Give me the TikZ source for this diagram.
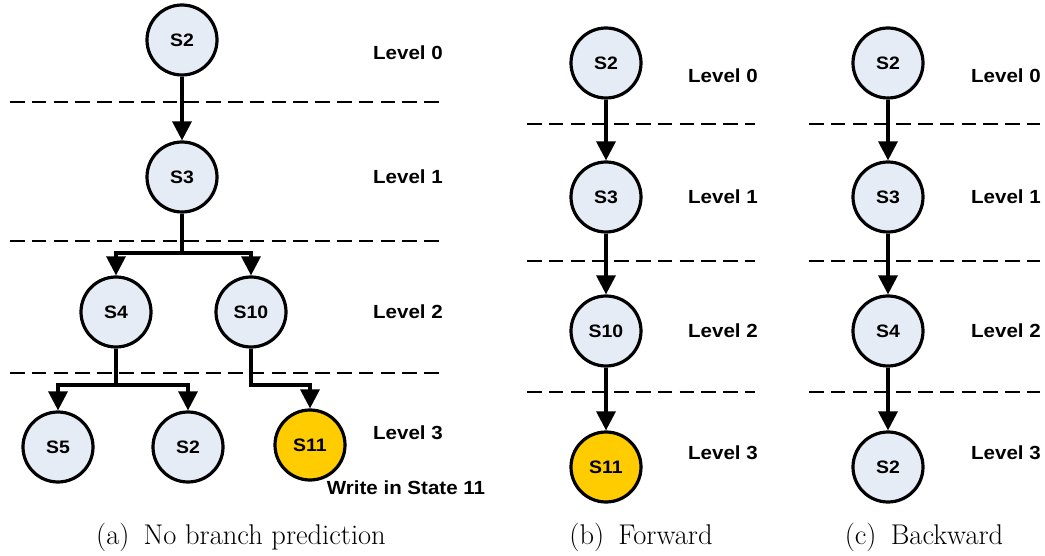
\documentclass[tikz,border=0pt]{standalone}
\usepackage{fontspec}
\newfontfamily\lab{Liberation Sans}[FakeStretch=1.08]
\usetikzlibrary{arrows.meta}
\definecolor{statefill}{HTML}{E6ECF6}
\definecolor{hotfill}{HTML}{FFCC00}
\tikzset{
  state/.style={circle, draw=black, line width=3.2pt, fill=statefill,
    minimum size=70pt, inner sep=0pt,
    font=\lab\bfseries\fontsize{18}{20}\selectfont},
  hot/.style={state, fill=hotfill},
  lvl/.style={anchor=west, inner sep=0pt, font=\lab\bfseries\fontsize{19}{21}\selectfont},
  note/.style={inner sep=0pt, font=\lab\bfseries\fontsize{19}{21}\selectfont},
  subcap/.style={inner sep=0pt, font=\fontsize{28.5}{32}\selectfont},
  sep/.style={line width=2.2pt, dash pattern=on 14.5pt off 7.3pt},
  arr/.style={line width=3.2pt, -{Triangle[length=19pt,width=19pt]}},
}
\begin{document}
\begin{tikzpicture}[x=1pt,y=-1pt]
\useasboundingbox (0,0) rectangle (1045,556);

% ---- (a) no branch prediction ----
\foreach \yy in {102,241,373} \draw[sep] (10,\yy) -- (443,\yy);
\node[state] (a0) at (182,40) {S2};
\node[state] (a1) at (182,177) {S3};
\node[state] (a2l) at (116,312) {S4};
\node[state] (a2r) at (251,312) {S10};
\node[state] (a3a) at (58,447) {S5};
\node[state] (a3b) at (188,447) {S2};
\node[hot] (a3c) at (310,445) {S11};
\coordinate (ja) at (182,253);
\coordinate (jb) at (116,385);
\coordinate (jc) at (251,385);
\draw[arr] (a0) -- (a1);
\draw[arr] (a1.south) -- (ja) -| (a2l.north);
\draw[arr] (a1.south) -- (ja) -| (a2r.north);
\draw[arr] (a2l.south) -- (jb) -| (a3a.north);
\draw[arr] (a2l.south) -- (jb) -| (a3b.north);
\draw[arr] (a2r.south) -- (jc) -| (a3c.north);
\node[lvl] (la0) at (373,53) {Level 0};
\node[lvl] (la1) at (373,177) {Level 1};
\node[lvl] (la2) at (373,312) {Level 2};
\node[lvl] (la3) at (373,433) {Level 3};
\node[note] (wr) at (406,488) {Write in State 11};
\node[subcap] (capa) at (241,537) {(a)\enspace No branch prediction};

% ---- (b) forward ----
\foreach \yy in {124,261,392} \draw[sep] (527,\yy) -- (755,\yy);
\node[state] (b0) at (606,63) {S2};
\node[state] (b1) at (606,197) {S3};
\node[state] (b2) at (606,331) {S10};
\node[hot] (b3) at (606,467) {S11};
\draw[arr] (b0) -- (b1);
\draw[arr] (b1) -- (b2);
\draw[arr] (b2) -- (b3);
\node[lvl] (lb0) at (688,76) {Level 0};
\node[lvl] (lb1) at (688,197) {Level 1};
\node[lvl] (lb2) at (688,331) {Level 2};
\node[lvl] (lb3) at (688,453) {Level 3};
\node[subcap] (capb) at (641,537) {(b)\enspace Forward};

% ---- (c) backward ----
\foreach \yy in {124,261,392} \draw[sep] (809,\yy) -- (1040,\yy);
\node[state] (c0) at (888,63) {S2};
\node[state] (c1) at (888,197) {S3};
\node[state] (c2) at (888,331) {S4};
\node[state] (c3) at (888,467) {S2};
\draw[arr] (c0) -- (c1);
\draw[arr] (c1) -- (c2);
\draw[arr] (c2) -- (c3);
\node[lvl] (lc0) at (971,76) {Level 0};
\node[lvl] (lc1) at (971,197) {Level 1};
\node[lvl] (lc2) at (971,331) {Level 2};
\node[lvl] (lc3) at (971,453) {Level 3};
\node[subcap] (capc) at (924,537) {(c)\enspace Backward};
\end{tikzpicture}
\end{document}
